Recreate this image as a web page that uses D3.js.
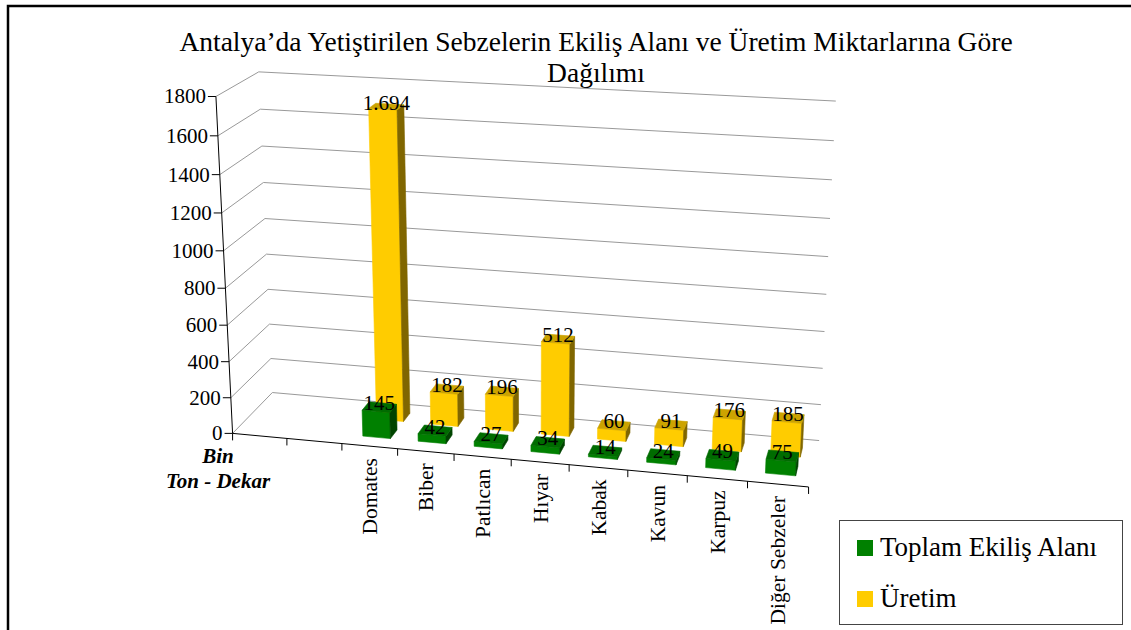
<!DOCTYPE html>
<html>
<head>
<meta charset="utf-8">
<script src="https://cdn.jsdelivr.net/npm/d3@7"></script>
<style>
  body { margin: 0; background: #fff; }
</style>
</head>
<body>
<div id="chart"></div>
<script>
// chart data
const categories = ["", "", "Domates", "Biber", "Patlıcan", "Hıyar", "Kabak", "Kavun", "Karpuz", "Diğer Sebzeler"];
const seriesNames = ["Toplam Ekiliş Alanı", "Üretim"];
const ekilisAlani = [null, null, 145, 42, 27, 34, 14, 24, 49, 75];
const uretim = [null, null, 1694, 182, 196, 512, 60, 91, 176, 185];
const valueTicks = [0, 200, 400, 600, 800, 1000, 1200, 1400, 1600, 1800];

const width = 1131, height = 630;

// where the corners of the 3D plot box land on screen (x, value, depth in 0..1)
const frameAnchors = [
    [[0, 0, 0], [232, 433]],
    [[0, 0.5, 0], [224.5, 268.5]],
    [[0, 1, 0], [216.5, 97]],
    [[0, 0, 1], [273, 393]],
    [[0, 1, 1], [258, 72]],
    [[0.2, 0, 0], [342, 443.5]],
    [[0.5, 0, 0], [511, 460]],
    [[0.8, 0, 0], [688, 476]],
    [[1, 0, 0], [808, 487]],
    [[1, 0, 1], [819, 440]],
    [[1, 1, 1], [836, 101]]
];

// least squares fit of a 3x4 perspective matrix (DLT)
function fitProjection(pairs) {
    const S = 500, cx = 500, cy = 300;
    const rows = [], rhs = [];
    pairs.forEach(([[X, Y, Z], [su, sv]]) => {
        const u = (su - cx) / S, v = (sv - cy) / S;
        rows.push([X, Y, Z, 1, 0, 0, 0, 0, -u * X, -u * Y, -u * Z]); rhs.push(u);
        rows.push([0, 0, 0, 0, X, Y, Z, 1, -v * X, -v * Y, -v * Z]); rhs.push(v);
    });
    const n = 11;
    const M = d3.range(n).map(i => d3.range(n + 1).map(j => {
        let s = 0;
        rows.forEach((r, k) => { s += r[i] * (j < n ? r[j] : rhs[k]); });
        return s;
    }));
    for (let c = 0; c < n; c++) {
        let piv = c;
        for (let r = c + 1; r < n; r++) if (Math.abs(M[r][c]) > Math.abs(M[piv][c])) piv = r;
        [M[c], M[piv]] = [M[piv], M[c]];
        for (let r = 0; r < n; r++) {
            if (r === c) continue;
            const f = M[r][c] / M[c][c];
            for (let k = c; k <= n; k++) M[r][k] -= f * M[c][k];
        }
    }
    const p = M.map((row, i) => row[n] / row[i]);
    return (X, Y, Z) => {
        const w = p[8] * X + p[9] * Y + p[10] * Z + 1;
        return [
            (p[0] * X + p[1] * Y + p[2] * Z + p[3]) / w * S + cx,
            (p[4] * X + p[5] * Y + p[6] * Z + p[7]) / w * S + cy
        ];
    };
}

const project = fitProjection(frameAnchors);

// scales into the unit box
const x = d3.scaleBand()
    .domain(d3.range(categories.length))
    .range([0, 1])
    .paddingInner(0.5)
    .paddingOuter(0.25);

const y = d3.scaleLinear()
    .domain([0, 1800])
    .range([0, 1]);

const z = d3.scaleBand()
    .domain(seriesNames)
    .range([0, 1])
    .paddingInner(0.5)
    .paddingOuter(0.5);

const colors = {
    "Toplam Ekiliş Alanı": { front: "#008000", top: "#006c00", side: "#004400" },
    "Üretim": { front: "#ffcc00", top: "#cca300", side: "#806600" }
};

const fmt = d3.formatLocale({ decimal: ",", thousands: ".", grouping: [3], currency: ["", ""] }).format(",d");

const svg = d3.select("#chart")
    .append("svg")
    .attr("width", width)
    .attr("height", height)
    .attr("font-family", "'Liberation Serif', 'Times New Roman', Times, serif");

svg.append("rect")
    .attr("width", width).attr("height", height)
    .attr("fill", "#fff");

// outer frame (right and bottom edges fall outside the picture)
svg.append("rect")
    .attr("x", 8).attr("y", 6)
    .attr("width", width + 20).attr("height", height + 20)
    .attr("fill", "none")
    .attr("stroke", "#000")
    .attr("stroke-width", 2.5);

// title
svg.append("text")
    .attr("x", 596).attr("y", 51)
    .attr("text-anchor", "middle")
    .attr("font-size", 27.5)
    .text("Antalya’da Yetiştirilen Sebzelerin Ekiliş Alanı ve Üretim Miktarlarına Göre");
svg.append("text")
    .attr("x", 596).attr("y", 82)
    .attr("text-anchor", "middle")
    .attr("font-size", 27.5)
    .text("Dağılımı");

const line = d3.line();

// gridlines: side wall and back wall
const grid = svg.append("g")
    .attr("fill", "none")
    .attr("stroke", "#999")
    .attr("stroke-width", 1);
valueTicks.forEach(t => {
    grid.append("path").attr("d", line([project(0, y(t), 0), project(0, y(t), 1), project(1, y(t), 1)]));
});

// value axis
const axis = svg.append("g").attr("stroke", "#000").attr("fill", "none");
axis.append("path").attr("d", line([project(0, 0, 0), project(0, 1, 0)]));
valueTicks.forEach(t => {
    const [px, py] = project(0, y(t), 0);
    axis.append("path").attr("d", line([[px - 8, py], [px, py]]));
    svg.append("text")
        .attr("x", px - 10).attr("y", py)
        .attr("dy", "0.33em")
        .attr("text-anchor", "end")
        .attr("font-size", 21)
        .text(t);
});

// category axis
axis.append("path").attr("d", line([project(0, 0, 0), project(1, 0, 0)]));
d3.range(categories.length + 1).forEach(i => {
    const [px, py] = project(x.step() * i, 0, 0);
    axis.append("path").attr("d", line([[px, py], [px, py + 7]]));
});
categories.forEach((c, i) => {
    if (!c) return;
    const [px, py] = project(x.step() * (i + 0.5), 0, 0);
    svg.append("text")
        .attr("transform", `translate(${px},${py + 12}) rotate(-90)`)
        .attr("dy", "0.35em")
        .attr("text-anchor", "end")
        .attr("font-size", 21.5)
        .text(c);
});

// unit label
svg.append("text")
    .attr("x", 218).attr("y", 463)
    .attr("text-anchor", "middle")
    .attr("font-size", 21)
    .attr("font-weight", "bold")
    .attr("font-style", "italic")
    .text("Bin");
svg.append("text")
    .attr("x", 218).attr("y", 488)
    .attr("text-anchor", "middle")
    .attr("font-size", 21)
    .attr("font-weight", "bold")
    .attr("font-style", "italic")
    .text("Ton - Dekar");

// bars, back row first
const seriesValues = { "Toplam Ekiliş Alanı": ekilisAlani, "Üretim": uretim };
const bars = svg.append("g");
const labels = [];
seriesNames.slice().reverse().forEach(name => {
    const col = colors[name];
    seriesValues[name].forEach((v, i) => {
        if (v == null) return;
        const x0 = x(i), x1 = x(i) + x.bandwidth();
        const y1 = y(v);
        const z0 = z(name), z1 = z(name) + z.bandwidth();
        const g = bars.append("g").attr("stroke-width", 0.6).attr("stroke-linejoin", "round");
        g.append("path")
            .attr("d", line([project(x0, 0, z0), project(x1, 0, z0), project(x1, y1, z0), project(x0, y1, z0)]) + "Z")
            .attr("fill", col.front).attr("stroke", col.front);
        g.append("path")
            .attr("d", line([project(x1, 0, z0), project(x1, 0, z1), project(x1, y1, z1), project(x1, y1, z0)]) + "Z")
            .attr("fill", col.side).attr("stroke", col.side);
        g.append("path")
            .attr("d", line([project(x0, y1, z0), project(x1, y1, z0), project(x1, y1, z1), project(x0, y1, z1)]) + "Z")
            .attr("fill", col.top).attr("stroke", col.top);
        labels.push({ pos: project((x0 + x1) / 2, y1, (z0 + z1) / 2), text: fmt(v) });
    });
});

// data labels
svg.append("g")
    .attr("font-size", 21)
    .attr("text-anchor", "middle")
    .selectAll("text")
    .data(labels)
    .join("text")
    .attr("x", d => d.pos[0])
    .attr("y", d => d.pos[1] + 3)
    .text(d => d.text);

// legend
const legend = svg.append("g");
legend.append("rect")
    .attr("x", 839.5).attr("y", 520.5)
    .attr("width", 283).attr("height", 104)
    .attr("fill", "#fff")
    .attr("stroke", "#444");
seriesNames.forEach((name, i) => {
    const ly = 548 + i * 51;
    legend.append("rect")
        .attr("x", 857).attr("y", ly - 8)
        .attr("width", 16).attr("height", 16)
        .attr("fill", colors[name].front);
    legend.append("text")
        .attr("x", 880).attr("y", ly + 8)
        .attr("font-size", 27)
        .text(name);
});
</script>
</body>
</html>
